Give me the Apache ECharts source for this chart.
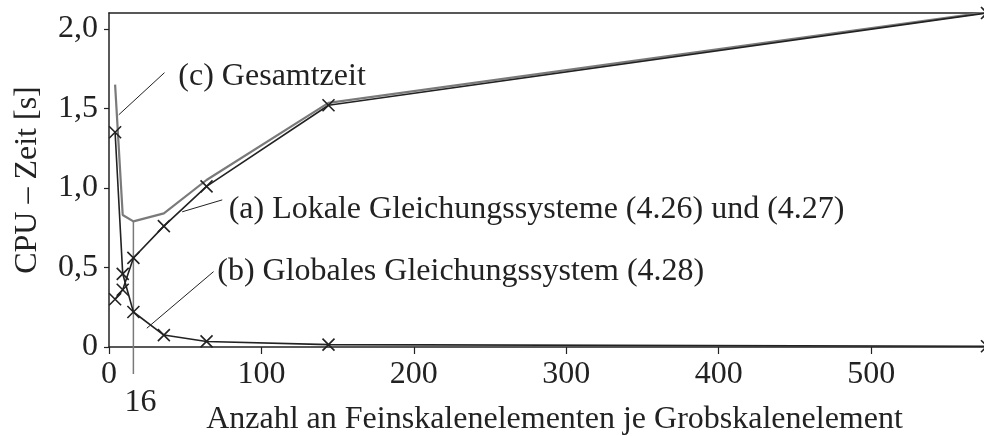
<!DOCTYPE html>
<html>
<head>
<meta charset="utf-8">
<script src="https://cdn.jsdelivr.net/npm/echarts@6/dist/echarts.min.js"></script>
<style>
  html, body { margin: 0; padding: 0; background: #fff; }
  #chart { width: 984px; height: 436px; }
</style>
</head>
<body>
<div id="chart"></div>
<script>
// Fine-scale elements per coarse-scale element
const gridSizes = [4, 9, 16, 36, 64, 144, 576];
// (a) local systems (4.26)/(4.27), CPU time in s
const localTime = [0.30, 0.36, 0.56, 0.76, 1.01, 1.52, 2.10];
// (b) global system (4.28), CPU time in s
const globalTime = [1.35, 0.46, 0.22, 0.075, 0.035, 0.015, 0.005];
// (c) total time in s
const totalTime = [1.65, 0.83, 0.79, 0.84, 1.05, 1.535, 2.105];

const yTickLabels = ['0', '0,5', '1,0', '1,5', '2,0'];
const xTickLabels = ['0', '100', '200', '300', '400', '500'];
const optimumSize = 16;
const optimumTotal = 0.79;

const annotationTexts = [
  '(c) Gesamtzeit',
  '(a) Lokale Gleichungssysteme (4.26) und (4.27)',
  '(b) Globales Gleichungssystem (4.28)'
];
// leader lines: from curve to text, in data units
const leaderStart = [[6.4, 1.46], [48, 0.85], [24.8, 0.118]];
const leaderEnd = [[36.4, 1.725], [74.3, 0.925], [68.6, 0.474]];
const textAnchor = [[45.5, 1.703], [78.5, 0.863], [71, 0.476]];

const FONT = '"Liberation Serif", "DejaVu Serif", serif';
const FS = 32;
const INK = '#222';
const GREY = '#7a7a7a';
const CROSS = 'path://M0,0L10,10M10,0L0,10';

const chart = echarts.init(document.getElementById('chart'), null, { renderer: 'canvas' });

const pairs = (ys) => gridSizes.map((x, i) => [x, ys[i]]);

const option = {
  animation: false,
  backgroundColor: '#fff',
  grid: { left: 109, right: -3, top: 13, bottom: 89, outerBoundsMode: 'none', containLabel: false },
  xAxis: [{
    type: 'value', min: 0, max: 576, interval: 100,
    name: 'Anzahl an Feinskalenelementen je Grobskalenelement',
    nameLocation: 'middle', nameGap: 57,
    nameTextStyle: { fontFamily: FONT, fontSize: FS, color: INK, padding: [0, 0, 0, 13] },
    axisLine: { show: true, onZero: false, symbol: 'none', lineStyle: { color: INK, width: 1.5 } },
    axisTick: { show: true, inside: false, length: 7, lineStyle: { color: INK, width: 1.2 } },
    axisLabel: {
      showMaxLabel: false, margin: 12,
      fontFamily: FONT, fontSize: FS, color: INK,
      formatter: (v) => xTickLabels[Math.round(v / 100)] ?? ''
    },
    splitLine: { show: false }
  }, {
    type: 'value', min: 0, max: 576, position: 'top',
    axisLine: { show: true, onZero: false, symbol: 'none', lineStyle: { color: INK, width: 1.5 } },
    axisTick: { show: false }, axisLabel: { show: false }, splitLine: { show: false }
  }],
  yAxis: {
    type: 'value', min: 0, max: 2.1, interval: 0.5,
    name: 'CPU – Zeit [s]',
    nameLocation: 'middle', nameGap: 65,
    nameTextStyle: { fontFamily: FONT, fontSize: FS, color: INK },
    axisLine: { show: true, onZero: false, symbol: 'none', lineStyle: { color: INK, width: 1.5 } },
    axisTick: { show: true, inside: false, length: 5, lineStyle: { color: INK, width: 1.2 } },
    axisLabel: {
      showMaxLabel: false, margin: 11,
      fontFamily: FONT, fontSize: FS, color: INK,
      formatter: (v) => yTickLabels[Math.round(v / 0.5)] ?? ''
    },
    splitLine: { show: false }
  },
  series: [
    {
      name: 'Gesamtzeit', type: 'line', data: pairs(totalTime),
      showSymbol: false, symbol: 'none', z: 2,
      lineStyle: { color: GREY, width: 2.2 }
    },
    {
      name: 'Lokale Gleichungssysteme', type: 'line', data: pairs(localTime),
      symbol: CROSS, symbolSize: 12, z: 3, clip: false,
      lineStyle: { color: INK, width: 1.6 },
      itemStyle: { color: 'transparent', borderColor: INK, borderWidth: 1.6 },
      markLine: {
        silent: true, symbol: ['none', 'none'], animation: false,
        label: { show: false },
        lineStyle: { color: INK, width: 1, type: 'solid' },
        data: leaderStart.map((p, i) => [{ coord: p }, { coord: leaderEnd[i] }])
      },
      markPoint: {
        silent: true, symbol: 'circle', symbolSize: 0,
        label: {
          show: true, position: 'right', distance: 0,
          fontFamily: FONT, fontSize: FS, color: INK,
          formatter: (p) => p.name
        },
        data: textAnchor.map((p, i) => ({ name: annotationTexts[i], coord: p }))
      }
    },
    {
      name: 'Globales Gleichungssystem', type: 'line', data: pairs(globalTime),
      symbol: CROSS, symbolSize: 12, z: 3, clip: false,
      lineStyle: { color: INK, width: 1.6 },
      itemStyle: { color: 'transparent', borderColor: INK, borderWidth: 1.6 }
    }
  ]
};

chart.setOption(option);

// grey marker at the optimum, reaching below the x axis with its own label
const optTop = chart.convertToPixel({ gridIndex: 0 }, [optimumSize, optimumTotal]);
const optBase = chart.convertToPixel({ gridIndex: 0 }, [optimumSize, 0]);
chart.setOption({
  graphic: [
    {
      type: 'line', silent: true, z: 1,
      shape: { x1: optTop[0], y1: optTop[1], x2: optTop[0], y2: optBase[1] + 27 },
      style: { stroke: GREY, lineWidth: 1.5 }
    },
    {
      type: 'text', silent: true,
      x: optTop[0] + 7, y: optBase[1] + 56,
      style: {
        text: String(optimumSize), fontFamily: FONT, fontSize: FS, fill: INK,
        align: 'center', verticalAlign: 'middle'
      }
    }
  ]
});
</script>
</body>
</html>
